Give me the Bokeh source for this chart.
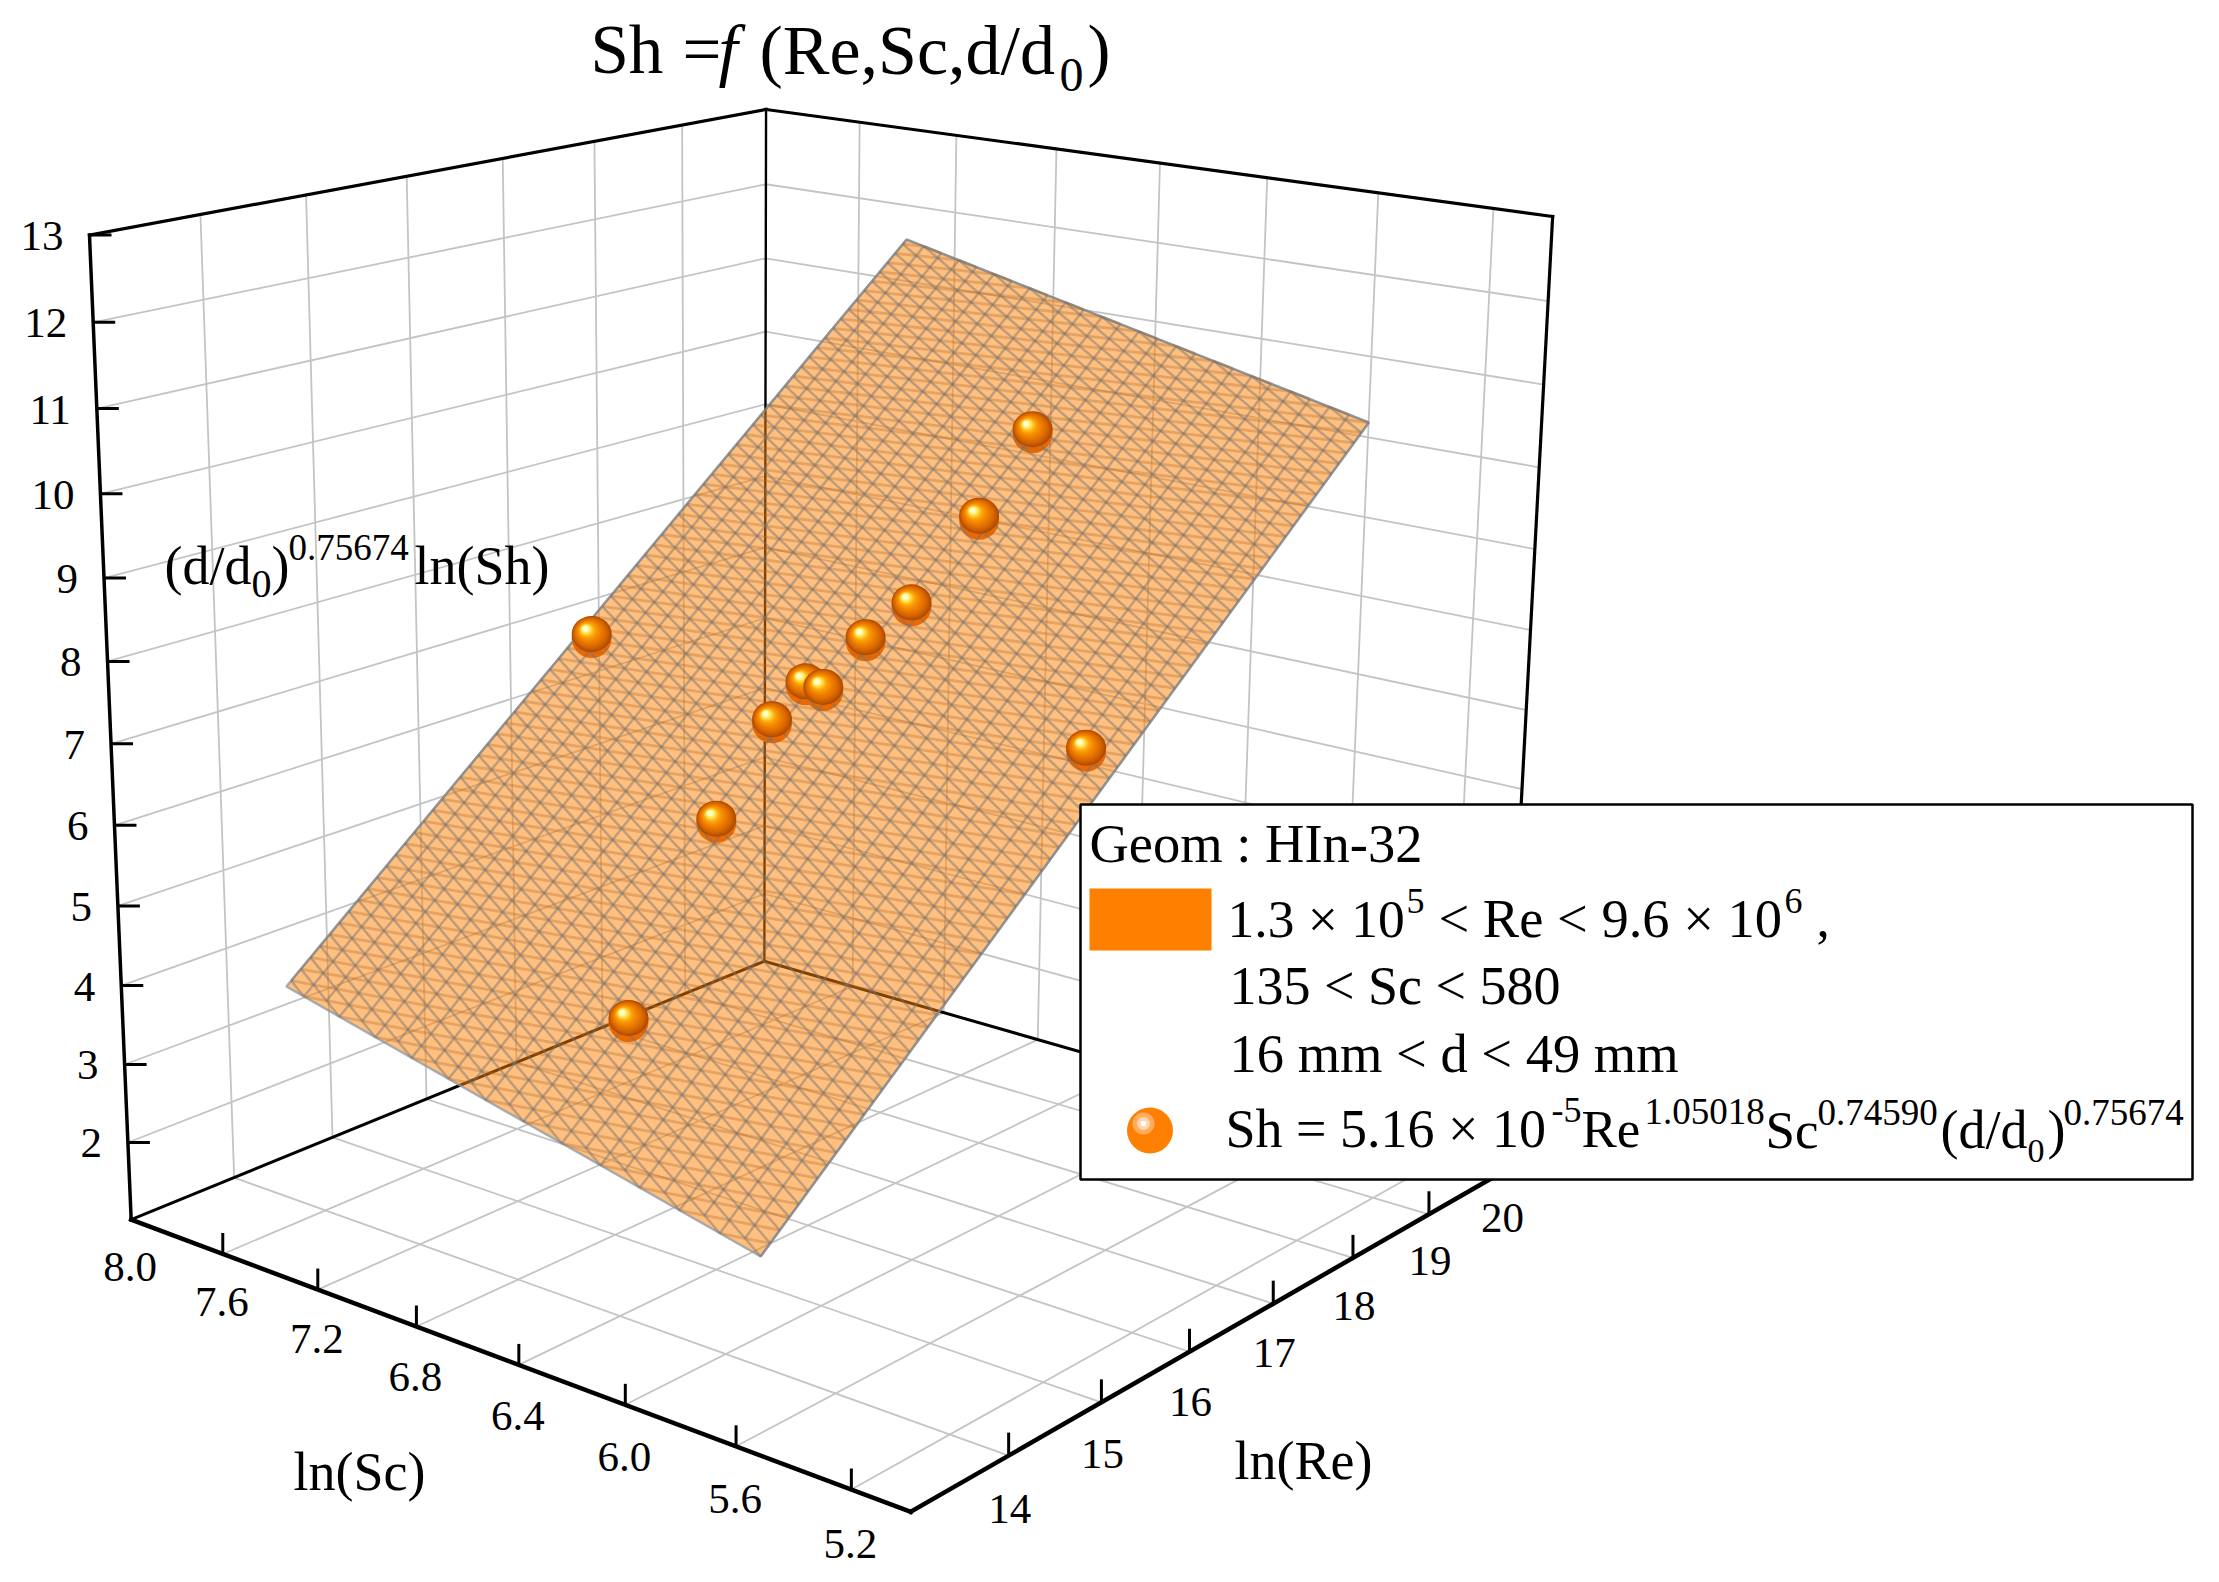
import numpy as np
from bokeh.plotting import figure
from bokeh.models import Range1d
from bokeh.core.properties import value
from bokeh.embed import file_html
from bokeh.resources import INLINE

# axis values
RE_TICKS = [14, 15, 16, 17, 18, 19, 20]
SC_TICKS = [8.0, 7.6, 7.2, 6.8, 6.4, 6.0, 5.6, 5.2]
Z_TICKS = [2, 3, 4, 5, 6, 7, 8, 9, 10, 11, 12, 13]
RE_MIN, RE_MAX = 13.0, 20.0
SC_MIN, SC_MAX = 5.0, 8.0
Z_MIN, Z_MAX = 1.0, 13.0

# data points, lying on the fitted surface
PT_RE = [18.37, 17.63, 16.87, 16.51, 16.06, 16.08, 15.72, 15.73, 14.98, 16.46, 13.61]
PT_SC = [6.36, 6.32, 6.32, 6.37, 6.44, 6.38, 7.15, 6.45, 6.39, 5.55, 6.21]
PT_Z = [10.12, 9.31, 8.51, 8.18, 7.76, 7.73, 7.94, 7.42, 6.58, 7.50, 5.01]

# fitted surface: z = A + B*lnRe + C*lnSc
SURF_RE = [12.7693, 19.3722]
SURF_SC = [5.4322, 7.1892]
SURF_A, SURF_B, SURF_C = -14.0069, 1.0508, 0.7589
MESH_RE_CELLS, MESH_SC_CELLS = 72, 25

# perspective camera (world -> page pixels)
CAM = np.array([[320.02481, -645.97016, -11.657996, 1404.4754],
                [-41.916959, -87.259485, -245.67861, 5084.0663],
                [0.069737623, 0.13230159, -0.015870147, 1.0]])

def proj(x, y, z):
    x, y, z = np.asarray(x, float), np.asarray(y, float), np.asarray(z, float)
    v = np.stack([x, y, z, np.ones_like(x)])
    h = CAM @ v
    return h[0] / h[2], h[1] / h[2]

def surf(re, sc):
    return SURF_A + SURF_B * re + SURF_C * sc

W, H = 2203, 1566
p = figure(width=W, height=H, output_backend="svg", toolbar_location=None,
           x_range=Range1d(0, W), y_range=Range1d(H, 0), min_border=0)
p.axis.visible = False
p.grid.visible = False
p.outline_line_color = None
p.background_fill_color = "white"

def seg3d(a, b, n=2):
    xs = np.linspace(a[0], b[0], n); ys = np.linspace(a[1], b[1], n); zs = np.linspace(a[2], b[2], n)
    u, v = proj(xs, ys, zs)
    return list(u), list(v)

# ---------- grid ----------
gx, gy = [], []
RI = [r for r in RE_TICKS if r < RE_MAX]
SI = [s for s in SC_TICKS if s < SC_MAX]
ZI = [z for z in Z_TICKS if z < Z_MAX]
for r in RI:
    for a, b in [((r, SC_MAX, Z_MIN), (r, SC_MAX, Z_MAX)), ((r, SC_MIN, Z_MIN), (r, SC_MAX, Z_MIN))]:
        u, v = seg3d(a, b); gx.append(u); gy.append(v)
for s in SI:
    for a, b in [((RE_MAX, s, Z_MIN), (RE_MAX, s, Z_MAX)), ((RE_MIN, s, Z_MIN), (RE_MAX, s, Z_MIN))]:
        u, v = seg3d(a, b); gx.append(u); gy.append(v)
for z in ZI:
    for a, b in [((RE_MIN, SC_MAX, z), (RE_MAX, SC_MAX, z)), ((RE_MAX, SC_MIN, z), (RE_MAX, SC_MAX, z))]:
        u, v = seg3d(a, b); gx.append(u); gy.append(v)
p.multi_line(gx, gy, line_color="#c4c4c4", line_width=1.8)

# ---------- frame ----------
def frame(a, b, w):
    u, v = seg3d(a, b)
    p.line(u, v, line_color="black", line_width=w, line_cap="square")
frame((RE_MIN, SC_MAX, Z_MIN), (RE_MIN, SC_MAX, Z_MAX), 3.5)
frame((RE_MIN, SC_MAX, Z_MAX), (RE_MAX, SC_MAX, Z_MAX), 3.2)
frame((RE_MAX, SC_MAX, Z_MAX), (RE_MAX, SC_MIN, Z_MAX), 3.2)
frame((RE_MAX, SC_MIN, Z_MAX), (RE_MAX, SC_MIN, Z_MIN), 3.2)
frame((RE_MAX, SC_MAX, Z_MIN), (RE_MAX, SC_MAX, Z_MAX), 2.4)
frame((RE_MIN, SC_MAX, Z_MIN), (RE_MAX, SC_MAX, Z_MIN), 3.0)
frame((RE_MAX, SC_MAX, Z_MIN), (RE_MAX, SC_MIN, Z_MIN), 3.0)
frame((RE_MIN, SC_MAX, Z_MIN), (RE_MIN, SC_MIN, Z_MIN), 4.5)
frame((RE_MIN, SC_MIN, Z_MIN), (RE_MAX, SC_MIN, Z_MIN), 4.5)

# ---------- ticks and tick labels ----------
tx, ty = [], []
for s in SC_TICKS:
    u, v = proj(RE_MIN, s, Z_MIN); u, v = float(u), float(v)
    if s < SC_MAX:
        tx.append([u, u]); ty.append([v, v - 21])
    off = 47 + (SC_MAX - s) / 2.8 * 7
    p.text([u - 1], [v + off], text=["%.1f" % s], text_font=value("Liberation Serif"), text_font_size="43px",
           text_align="center", text_baseline="middle", text_color="black")
for r in RE_TICKS:
    u, v = proj(r, SC_MIN, Z_MIN); u, v = float(u), float(v)
    if r < RE_MAX:
        tx.append([u, u]); ty.append([v, v - 23])
    off = 53 - (r - 14) / 6 * 8
    p.text([u + 1], [v + off], text=[str(r)], text_font=value("Liberation Serif"), text_font_size="43px",
           text_align="center", text_baseline="middle", text_color="black")
for z in Z_TICKS:
    u, v = proj(RE_MIN, SC_MAX, z); u, v = float(u), float(v)
    tx.append([u, u + 22]); ty.append([v, v])
    p.text([u - 26], [v + 1], text=[str(z)], text_font=value("Liberation Serif"), text_font_size="43px",
           text_align="right", text_baseline="middle", text_color="black")
p.multi_line(tx, ty, line_color="black", line_width=3)

# ---------- sphere lower parts, seen through the surface ----------
px_, py_ = proj(PT_RE, PT_SC, PT_Z)
p.circle(list(px_), list(py_ + 3), radius=20, fill_color="#D85000", line_color=None)

# ---------- surface ----------
cr = [SURF_RE[0], SURF_RE[0], SURF_RE[1], SURF_RE[1]]
cs = [SURF_SC[0], SURF_SC[1], SURF_SC[1], SURF_SC[0]]
cu, cv = proj(cr, cs, [surf(a, b) for a, b in zip(cr, cs)])
p.patch(list(cu), list(cv), fill_color="#FF8000", fill_alpha=0.5, line_color="#8c98a4", line_alpha=0.75, line_width=2.4)

def pq(i, j):
    a = min(1.0, max(0.0, (i + 0.5 * (j % 2)) / MESH_RE_CELLS))
    b = j / MESH_SC_CELLS
    re = SURF_RE[0] + a * (SURF_RE[1] - SURF_RE[0])
    sc = SURF_SC[0] + b * (SURF_SC[1] - SURF_SC[0])
    return re, sc, surf(re, sc)

strong_x, strong_y, soft_x, soft_y = [], [], [], []
def add(a, b, xs, ys):
    u, v = proj([a[0], b[0]], [a[1], b[1]], [a[2], b[2]])
    xs.append(list(u)); ys.append(list(v))
for j in range(MESH_SC_CELLS + 1):
    for i in range(MESH_RE_CELLS + 1):
        add(pq(i, j), pq(i + 1, j), strong_x, strong_y)
        if j < MESH_SC_CELLS:
            if j % 2 == 0:
                add(pq(i, j), pq(i, j + 1), strong_x, strong_y)
                if i > 0:
                    add(pq(i, j), pq(i - 1, j + 1), soft_x, soft_y)
            else:
                add(pq(i, j), pq(i, j + 1), soft_x, soft_y)
                add(pq(i, j), pq(i + 1, j + 1), strong_x, strong_y)
p.multi_line(soft_x, soft_y, line_color="#a86a30", line_alpha=0.33, line_width=2.8)
p.multi_line(strong_x, strong_y, line_color="#747474", line_alpha=0.46, line_width=2.5)

# ---------- spheres ----------
STOPS = [(0.0, (176, 76, 0)), (0.18, (214, 100, 0)), (0.45, (240, 128, 0)),
         (0.68, (252, 165, 10)), (0.85, (255, 225, 70)), (1.0, (255, 255, 205))]
def colour(t):
    for (t0, c0), (t1, c1) in zip(STOPS, STOPS[1:]):
        if t <= t1:
            f = (t - t0) / (t1 - t0)
            return "#%02x%02x%02x" % tuple(int(round(a + f * (b - a))) for a, b in zip(c0, c1))
    return "#ffffcd"
NL = 16
for k in range(len(PT_RE)):
    for n in range(NL):
        t = n / (NL - 1)
        s = 1 - 0.86 * t
        p.ellipse([float(px_[k]) - 6.5 * t], [float(py_[k]) - 1 - 5.5 * t], width=40 * s, height=36 * s,
                  fill_color=colour(t), line_color=None)

# ---------- text helper ----------
BASE_SHIFT = 0.35
def T(x, y, s, size, style="normal"):
    p.text([x], [y - BASE_SHIFT * size], text=[s], text_font=value("Liberation Serif"), text_font_size="%gpx" % size,
           text_font_style=style, text_align="left", text_baseline="alphabetic", text_color="black")

# title
T(590, 74, "Sh", 69)
T(682, 74, "=", 69)
T(718, 74, "f", 69, "italic")
T(759, 74, "(Re,Sc,d/d", 70)
T(1059, 91, "0", 48)
T(1087, 74, ")", 69)

# z-axis title
T(164, 584, "(d/d", 54)
T(251, 597, "0", 40)
T(271, 584, ")", 54)
T(288, 560, "0.75674", 37)
T(414, 584, "ln(Sh)", 54)

# axis titles
T(293, 1490, "ln(Sc)", 54)
T(1234, 1479, "ln(Re)", 54)

# ---------- legend ----------
p.quad(left=[1080], right=[2192], top=[804], bottom=[1179], fill_color="white", line_color="black", line_width=2.5)
p.quad(left=[1089], right=[1211], top=[888], bottom=[950], fill_color="#FF8000", line_color=None)
p.circle([1149.5], [1130], radius=23, fill_color="#FF8000", line_color=None)
p.circle([1143], [1123], radius=11, fill_color="#FFAD5C", line_color=None)
p.circle([1143], [1123], radius=6.5, fill_color="#FFD5AE", line_color=None)
p.circle([1143], [1123], radius=2.8, fill_color="#FFFFFF", line_color=None)

T(1089, 862, "Geom : HIn-32", 54.5)
T(1227, 937, "1.3 × 10", 53.5)
T(1406, 913, "5", 36)
T(1438, 937, "< Re < 9.6 × 10", 54.5)
T(1784, 913, "6", 36)
T(1816, 937, ",", 53)
T(1229, 1004, "135 < Sc < 580", 54)
T(1229, 1072, "16 mm < d < 49 mm", 54.5)
T(1225, 1147, "Sh = 5.16 × 10", 54)
T(1551, 1122, "-5", 36)
T(1581, 1147, "Re", 53)
T(1644, 1124, "1.05018", 37)
T(1765, 1148, "Sc", 53)
T(1817, 1125, "0.74590", 37)
T(1940, 1148, "(d/d", 54)
T(2027, 1162, "0", 34)
T(2047, 1148, ")", 54)
T(2063, 1125, "0.75674", 37)

open("out.html", "w").write(file_html(p, INLINE))
